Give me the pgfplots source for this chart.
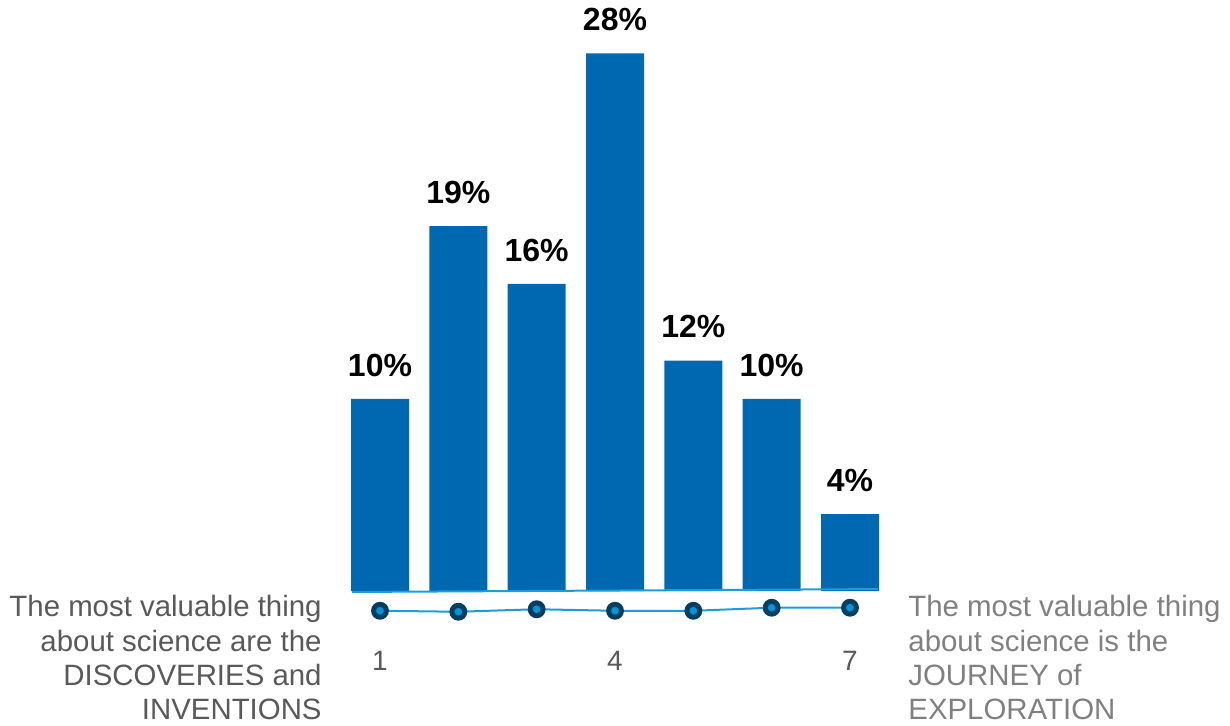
\documentclass[border=0pt]{standalone}
\usepackage{fontspec}
\setmainfont{Liberation Sans}
\usepackage{pgfplots}
\pgfplotsset{compat=1.18}
\definecolor{barblue}{HTML}{0068B1}
\definecolor{navy}{HTML}{003E63}
\definecolor{dotblue}{HTML}{0095D5}
\definecolor{lineblue}{HTML}{1F9BD7}
\definecolor{darkgray}{HTML}{595959}
\definecolor{lightgray}{HTML}{808080}
\begin{document}
\begin{tikzpicture}
\begin{axis}[
  at={(166.5pt,37pt)}, anchor=south west,
  scale only axis, width=282pt, height=325.5pt,
  xmin=0.4, xmax=7.6, ymin=-3.125, ymax=30.78,
  clip=false,
  axis line style={draw=none},
  tick style={draw=none},
  ytick=\empty,
  xtick={1,4,7},
  /pgf/number format/assume math mode=true,
  xticklabel style={font=\fontsize{14}{16}\selectfont, text=darkgray, inner sep=0pt},
]
\addplot[ybar, bar width=29pt, fill=barblue, draw=none,
  nodes near coords={\pgfmathprintnumber{\pgfplotspointmeta}\%},
  every node near coord/.append style={font=\fontsize{16}{18}\selectfont\bfseries, text=black, inner sep=0pt, yshift=11pt}]
  coordinates {(1,10) (2,19) (3,16) (4,28) (5,12) (6,10) (7,4)};
\addplot[lineblue, line width=1pt, no marks] coordinates {(0.643,-0.05) (7.357,0.1)};
\addplot[lineblue, line width=1pt, mark=*, mark size=3.2pt,
  mark options={draw=navy, fill=dotblue, line width=2.5pt}]
  coordinates {(1,-1.03) (2,-1.08) (3,-0.95) (4,-1.03) (5,-1.03) (6,-0.87) (7,-0.87)};
\end{axis}
\node[anchor=north east, inner sep=0pt, align=right, text=darkgray,
  font=\fontsize{14.7}{17.2}\selectfont] at (161pt,65pt)
  {The most valuable thing\\about science are the\\DISCOVERIES and\\INVENTIONS};
\node[anchor=north west, inner sep=0pt, align=left, text=lightgray,
  font=\fontsize{14.7}{17.2}\selectfont] at (454pt,65pt)
  {The most valuable thing\\about science is the\\JOURNEY of\\EXPLORATION};
\pgfresetboundingbox
\path[use as bounding box] (0,0) rectangle (615pt,362.5pt);
\end{tikzpicture}
\end{document}
